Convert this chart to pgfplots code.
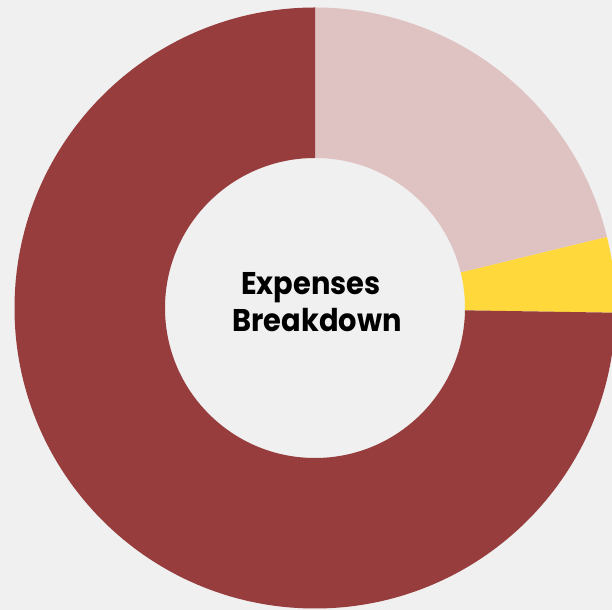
\documentclass[border=0pt]{standalone}
\usepackage{pgfplots}
\pgfplotsset{compat=1.18}
\usepackage{pgfplotstable}
\usepackage{graphicx}
\usepackage{fontspec}
\setmainfont{Poppins}

\definecolor{bgc}{HTML}{F0F0F0}
\definecolor{sliceA}{HTML}{DFC3C3}
\definecolor{sliceB}{HTML}{FFD83B}
\definecolor{sliceC}{HTML}{973D3D}

% share of each slice in percent, clockwise from 12 o'clock
\pgfplotstableread{
share colour
21.2  sliceA
4.05  sliceB
74.75 sliceC
}\expenses

\begin{document}
\begin{tikzpicture}
\begin{axis}[
  x=1bp, y=1bp,
  xmin=0, xmax=612, ymin=0, ymax=610,
  hide axis,
]
\fill[bgc] (rel axis cs:0,0) rectangle (rel axis cs:1,1);
\coordinate (sw) at (rel axis cs:0,0);
\coordinate (ne) at (rel axis cs:1,1);
\pgfplotstablegetrowsof{\expenses}
\pgfmathtruncatemacro\nrows{\pgfplotsretval-1}
\def\angstart{90}
\pgfplotsforeachungrouped \i in {0,...,\nrows}{%
  \pgfplotstablegetelem{\i}{share}\of\expenses \let\val\pgfplotsretval
  \pgfplotstablegetelem{\i}{colour}\of\expenses \let\col\pgfplotsretval
  \pgfmathsetmacro\angend{\angstart-3.6*\val}
  \pgfmathsetmacro\xo{315+300.5*cos(\angstart)}
  \pgfmathsetmacro\yo{302+300.5*sin(\angstart)}
  \pgfmathsetmacro\xi{315+150*cos(\angend)}
  \pgfmathsetmacro\yi{302+150*sin(\angend)}
  \edef\temp{\noexpand\fill[\col] (axis cs:\xo,\yo)
    arc[start angle=\angstart, end angle=\angend, radius=300.5bp]
    -- (axis cs:\xi,\yi)
    arc[start angle=\angend, end angle=\angstart, radius=150bp] -- cycle;}
  \temp
  \global\let\angstart\angend
}
\node[anchor=base, font=\bfseries\fontsize{31.5}{36}\selectfont] at (axis cs:311,315) {\scalebox{0.92}[1]{Expenses}};
\node[anchor=base, font=\bfseries\fontsize{31.5}{36}\selectfont] at (axis cs:317,278) {\scalebox{0.92}[1]{Breakdown}};
\end{axis}
\pgfresetboundingbox
\useasboundingbox (sw) rectangle (ne);
\end{tikzpicture}
\end{document}
